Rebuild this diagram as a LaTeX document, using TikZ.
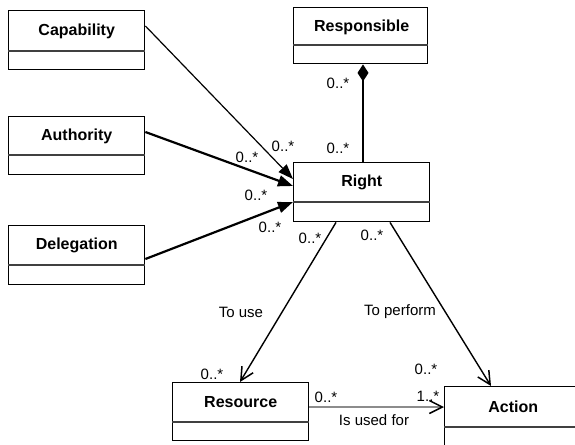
\documentclass[tikz,border=0pt]{standalone}
\usepackage{fontspec}
\setmainfont{Liberation Sans}
\usetikzlibrary{arrows.meta,calc}
\begin{document}
\begin{tikzpicture}[x=1pt,y=-1pt,
  cls/.style={draw,line width=1.4pt,inner sep=0pt,anchor=north west,minimum width=136pt,minimum height=59pt},
  cname/.style={font=\fontsize{16}{18}\selectfont\bfseries,inner sep=0pt},
  mult/.style={font=\fontsize{15}{17}\selectfont,inner sep=0pt},
  divider/.style={line width=1.1pt,black!75},
  filledarrow/.style={-{Triangle[length=15pt,width=11pt]}},
  openarrow/.style={-{Straight Barb[length=13pt,width=13pt,line width=1.5pt,black]}},
  diamondarrow/.style={{Diamond[length=17pt,width=11pt]}-}
]
\useasboundingbox (0,0) rectangle (575,444);
\clip (0,0) rectangle (575,444);

% classes
\node[cls] (cap) at (8,10) {};
\node[cname] (capT) at ($(cap.north)+(0,21)$) {Capability};
\draw[divider] ($(cap.north west)+(0,41)$) -- ($(cap.north east)+(0,41)$);

\node[cls,minimum height=58pt] (auth) at (8,116) {};
\node[cname] (authT) at ($(auth.north)+(0,20)$) {Authority};
\draw[divider] ($(auth.north west)+(0,39)$) -- ($(auth.north east)+(0,39)$);

\node[cls] (del) at (8,225) {};
\node[cname] (delT) at ($(del.north)+(0,20)$) {Delegation};
\draw[divider] ($(del.north west)+(0,40)$) -- ($(del.north east)+(0,40)$);

\node[cls,minimum width=134pt,minimum height=56pt] (resp) at (293,7) {};
\node[cname] (respT) at ($(resp.north)+(1,20)$) {Responsible};
\draw[divider] ($(resp.north west)+(0,38)$) -- ($(resp.north east)+(0,38)$);

\node[cls] (right) at (293,162) {};
\node[cname] (rightT) at ($(right.north)+(0,20)$) {Right};
\draw[divider] ($(right.north west)+(0,40)$) -- ($(right.north east)+(0,40)$);

\node[cls,minimum height=58pt] (res) at (172,382) {};
\node[cname] (resT) at ($(res.north)+(0,20)$) {Resource};
\draw[divider] ($(res.north west)+(0,40)$) -- ($(res.north east)+(0,40)$);

\node[cls,minimum width=137pt] (act) at (444,386) {};
\node[cname] (actT) at ($(act.north)+(0,21)$) {Action};
\draw[divider] ($(act.north west)+(0,41)$) -- ($(act.north east)+(0,41)$);

% connectors
\draw[line width=1.2pt,filledarrow] ($(cap.north east)+(0,16)$) -- ($(right.north west)+(0,17)$);
\draw[line width=2.2pt,filledarrow] ($(auth.north east)+(0,16)$) -- ($(right.north west)+(0,24)$);
\draw[line width=2.2pt,filledarrow] ($(del.north east)+(0,34)$) -- ($(right.north west)+(0,40)$);
\draw[line width=1.3pt,diamondarrow] ($(resp.south west)+(70,0)$) -- ($(right.north west)+(70,0)$);
\draw[line width=1.4pt,openarrow] ($(right.south west)+(43,0)$) -- ($(res.north west)+(68,0)$);
\draw[line width=1.4pt,openarrow] ($(right.south west)+(97,0)$) -- ($(act.north west)+(47,0)$);
\draw[line width=1.2pt,black!45,openarrow] ($(res.north east)+(0,25)$) -- ($(act.north west)+(0,21)$);

% multiplicities and labels
\node[mult] (m1) at (283,146) {0..*};
\node[mult] (m2) at (247,157) {0..*};
\node[mult] (m3) at (256,195) {0..*};
\node[mult] (m4) at (270,227) {0..*};
\node[mult] (m5) at (310,238) {0..*};
\node[mult] (m6) at (372,235) {0..*};
\node[mult] (m7) at (338,83) {0..*};
\node[mult] (m8) at (338,148) {0..*};
\node[mult] (m9) at (212,374) {0..*};
\node[mult] (m10) at (326,397) {0..*};
\node[mult] (m11) at (426,369) {0..*};
\node[mult] (m12) at (428,396) {1..*};
\node[mult] (l1) at (241,312) {To use};
\node[mult] (l2) at (400,312) {To perform};
\node[mult] (l3) at (374,420) {Is used for};
\end{tikzpicture}
\end{document}
